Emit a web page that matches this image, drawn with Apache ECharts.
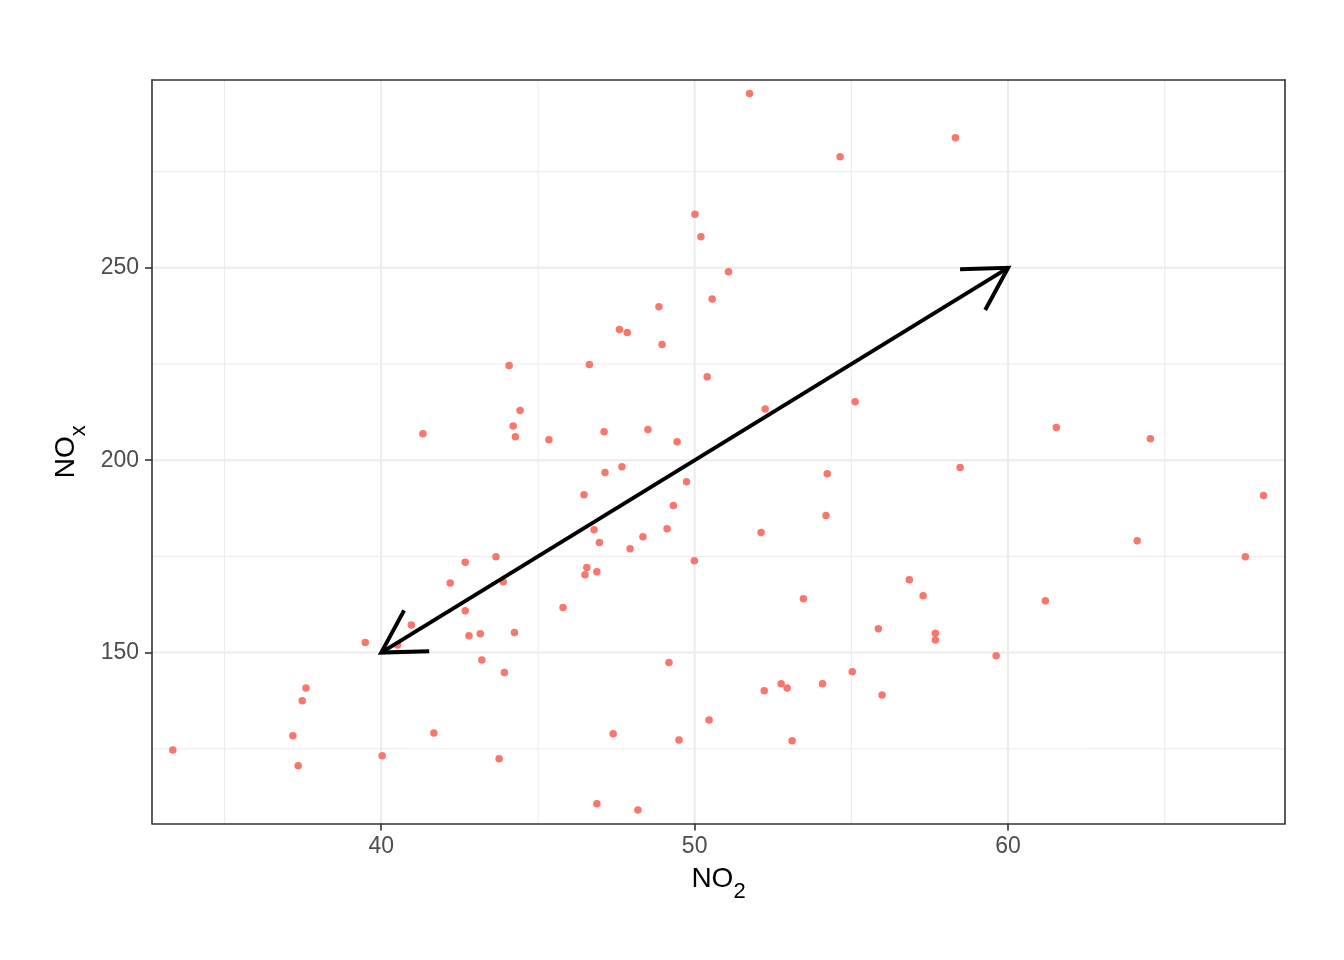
<!DOCTYPE html>
<html>
<head>
<meta charset="utf-8">
<script src="https://cdn.jsdelivr.net/npm/echarts@6/dist/echarts.min.js"></script>
<style>html,body{margin:0;padding:0;background:#ffffff}#chart{width:1344px;height:960px}</style>
</head>
<body>
<div id="chart"></div>
<script>
// ---- data ----
const no2 = [33.35, 37.18, 37.35, 37.48, 37.60, 39.49, 40.03, 40.52, 40.96, 41.33,
  41.68, 42.20, 42.68, 42.68, 42.80, 43.16, 43.21, 43.66, 43.76, 43.89,
  43.93, 44.08, 44.21, 44.28, 44.25, 44.43, 45.35, 45.80, 46.47, 46.50,
  46.56, 46.64, 46.79, 46.88, 46.88, 46.96, 47.11, 47.14, 47.40, 47.60,
  47.68, 47.85, 47.94, 48.19, 48.35, 48.51, 48.86, 48.96, 49.12, 49.18,
  49.32, 49.44, 49.50, 49.74, 49.99, 50.01, 50.20, 50.40, 50.46, 50.56,
  51.08, 51.75, 52.12, 52.22, 52.25, 52.76, 52.95, 53.11, 53.47, 54.08,
  54.23, 54.19, 54.64, 55.03, 55.12, 55.86, 55.98, 56.85, 57.29, 57.68,
  57.68, 58.32, 58.47, 59.62, 61.19, 61.54, 64.12, 64.54, 67.57, 68.15];
const nox = [124.7, 128.4, 120.6, 137.5, 140.8, 152.6, 123.2, 152.0, 157.2, 206.9,
  129.1, 168.1, 173.5, 160.9, 154.4, 154.9, 148.1, 174.9, 122.4, 168.4,
  144.8, 224.6, 208.9, 206.1, 155.2, 212.9, 205.3, 161.7, 191.0, 170.2,
  172.1, 224.9, 181.9, 171.0, 110.7, 178.6, 207.4, 196.8, 128.9, 234.0,
  198.3, 233.2, 177.0, 109.1, 180.1, 208.0, 239.9, 230.1, 182.2, 147.4,
  188.2, 204.8, 127.3, 194.4, 173.9, 263.9, 258.1, 221.7, 132.5, 241.9,
  249.0, 295.3, 181.2, 140.1, 213.3, 141.9, 140.8, 127.1, 164.0, 141.9,
  196.5, 185.6, 278.9, 145.0, 215.2, 156.2, 139.0, 168.9, 164.8, 155.0,
  153.3, 283.8, 198.1, 149.2, 163.5, 208.5, 179.1, 205.6, 174.9, 190.8];
const xTicks = [40, 50, 60];
const yTicks = [150, 200, 250];
const xMinor = [35, 45, 55, 65];
const yMinor = [125, 175, 225, 275];
const arrowFrom = [40, 150];
const arrowTo = [60, 250];
const xRange = [32.686, 68.836];
const yRange = [105.58, 298.82];

// ---- chart ----
const FONT = "'Liberation Sans', Arial, sans-serif";
const chart = echarts.init(document.getElementById('chart'), null, {renderer: 'canvas'});

function gridSeries(values, vertical, width) {
  return {
    type: 'custom',
    z: 1,
    silent: true,
    animation: false,
    data: values.map(v => [v]),
    encode: vertical ? {x: 0} : {y: 0},
    renderItem: function (params, api) {
      const v = api.value(0);
      const a = vertical ? api.coord([v, yRange[0]]) : api.coord([xRange[0], v]);
      const b = vertical ? api.coord([v, yRange[1]]) : api.coord([xRange[1], v]);
      return {type: 'line', shape: {x1: a[0], y1: a[1], x2: b[0], y2: b[1]},
        style: {stroke: '#EBEBEB', lineWidth: width}};
    }
  };
}

function headPoints(tip, other) {
  const ang = Math.atan2(other[1] - tip[1], other[0] - tip[0]);
  const L = 48, a = Math.PI / 6;
  return [[tip[0] + L * Math.cos(ang + a), tip[1] + L * Math.sin(ang + a)], tip,
          [tip[0] + L * Math.cos(ang - a), tip[1] + L * Math.sin(ang - a)]];
}

const borderAxisLine = {show: true, onZero: false, lineStyle: {color: '#333333', width: 1.6}};
const titleRich = {
  n: {fontSize: 28, fontFamily: FONT, color: '#000', verticalAlign: 'bottom', padding: [0, 0, 9, 0]},
  s: {fontSize: 22, fontFamily: FONT, color: '#000', verticalAlign: 'bottom'}
};

const option = {
  animation: false,
  backgroundColor: '#ffffff',
  grid: {left: 152, top: 80, right: 59, bottom: 136.5, containLabel: false},
  xAxis: [{
    type: 'value', min: xRange[0], max: xRange[1], position: 'bottom', z: 10,
    axisLine: borderAxisLine,
    axisTick: {show: true, customValues: xTicks, length: 7, lineStyle: {color: '#333333', width: 1.6}},
    axisLabel: {customValues: xTicks, fontSize: 23, color: '#4D4D4D', fontFamily: FONT, margin: 12},
    splitLine: {show: false},
    name: '{n|NO}{s|2}', nameLocation: 'middle', nameGap: 42,
    nameTextStyle: {rich: titleRich}
  }, {
    type: 'value', min: xRange[0], max: xRange[1], position: 'top', z: 10,
    axisLine: borderAxisLine, axisTick: {show: false}, axisLabel: {show: false}, splitLine: {show: false}
  }],
  yAxis: [{
    type: 'value', min: yRange[0], max: yRange[1], position: 'left', z: 10,
    axisLine: borderAxisLine,
    axisTick: {show: true, customValues: yTicks, length: 7, lineStyle: {color: '#333333', width: 1.6}},
    axisLabel: {customValues: yTicks, fontSize: 23, color: '#4D4D4D', fontFamily: FONT, margin: 13},
    splitLine: {show: false},
    name: '{n|NO}{s|x}', nameLocation: 'middle', nameRotate: 90, nameGap: 58,
    nameTextStyle: {rich: titleRich}
  }, {
    type: 'value', min: yRange[0], max: yRange[1], position: 'right', z: 10,
    axisLine: borderAxisLine, axisTick: {show: false}, axisLabel: {show: false}, splitLine: {show: false}
  }],
  series: [
    gridSeries(xMinor, true, 1),
    gridSeries(yMinor, false, 1),
    gridSeries(xTicks, true, 2),
    gridSeries(yTicks, false, 2),
    {
      type: 'scatter', z: 3, symbol: 'circle', symbolSize: 7.5,
      itemStyle: {color: '#F8766D', opacity: 1},
      data: no2.map((x, i) => [x, nox[i]])
    },
    {
      type: 'custom', z: 4, silent: true,
      data: [[arrowFrom[0], arrowFrom[1], arrowTo[0], arrowTo[1]]],
      encode: {x: [0, 2], y: [1, 3]},
      renderItem: function (params, api) {
        const p0 = api.coord([api.value(0), api.value(1)]);
        const p1 = api.coord([api.value(2), api.value(3)]);
        const st = {stroke: '#000000', lineWidth: 4, fill: null, lineCap: 'butt', lineJoin: 'miter'};
        return {type: 'group', children: [
          {type: 'polyline', shape: {points: [p0, p1]}, style: st},
          {type: 'polyline', shape: {points: headPoints(p1, p0)}, style: st},
          {type: 'polyline', shape: {points: headPoints(p0, p1)}, style: st}
        ]};
      }
    }
  ]
};
chart.setOption(option);
</script>
</body>
</html>
